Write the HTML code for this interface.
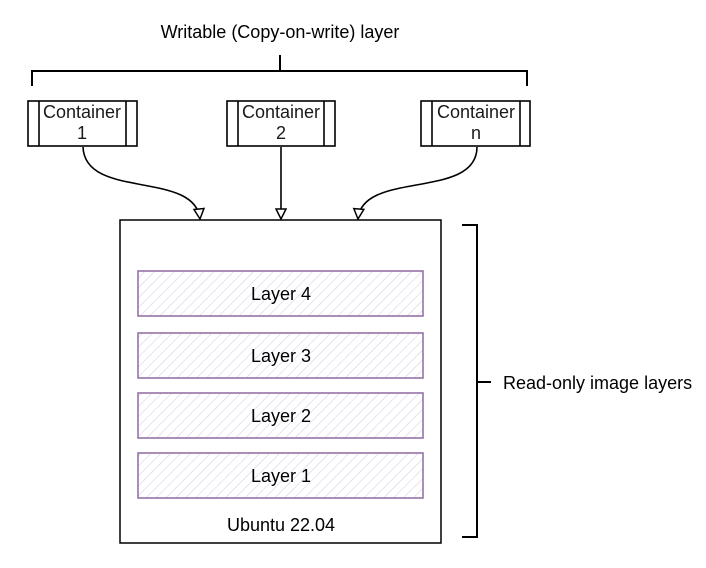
<!DOCTYPE html>
<html><head><meta charset="utf-8"><style>
html,body{margin:0;padding:0;background:#fff;}
svg{display:block;}
text{font-family:"Liberation Sans",Arial,sans-serif;font-size:18px;}
</style></head><body>
<svg width="706" height="568" viewBox="0 0 706 568" xmlns="http://www.w3.org/2000/svg">
<defs>
<pattern id="h" width="7" height="7" patternUnits="userSpaceOnUse" patternTransform="rotate(45)">
<line x1="0" y1="0" x2="0" y2="7" stroke="#d9cfe6" stroke-width="1.2"/>
</pattern>
<marker id="a" markerWidth="14" markerHeight="14" refX="11" refY="6" orient="auto" markerUnits="userSpaceOnUse">
<path d="M1,1 L11,6 L1,11 Z" fill="#fff" stroke="#000" stroke-width="1.5"/>
</marker>
</defs>
<text x="280" y="38" text-anchor="middle" fill="#000">Writable (Copy-on-write) layer</text>
<g stroke="#000" stroke-width="2" fill="none">
<path d="M32,86 L32,71 L527,71 L527,86"/>
<path d="M280,55 L280,71"/>
</g>
<g stroke="#000" stroke-width="1.6" fill="#fff">
<rect x="28" y="101" width="109" height="45"/>
<rect x="227" y="101" width="108" height="45"/>
<rect x="421" y="101" width="109" height="45"/>
</g>
<g stroke="#000" stroke-width="1.6">
<line x1="39" y1="101" x2="39" y2="146"/><line x1="126" y1="101" x2="126" y2="146"/>
<line x1="238" y1="101" x2="238" y2="146"/><line x1="324" y1="101" x2="324" y2="146"/>
<line x1="432" y1="101" x2="432" y2="146"/><line x1="520" y1="101" x2="520" y2="146"/>
</g>
<g fill="#1a1a1a" text-anchor="middle">
<text x="82" y="118">Container</text><text x="82" y="139">1</text>
<text x="281" y="118">Container</text><text x="281" y="139">2</text>
<text x="476" y="118">Container</text><text x="476" y="139">n</text>
</g>
<rect x="120" y="220" width="321" height="323" fill="#fff" stroke="#000" stroke-width="1.5"/>
<g stroke="#000" stroke-width="1.6" fill="none" marker-end="url(#a)">
<path d="M83,147 C85,200 195,170 200,219"/>
<path d="M281,147 L281,219"/>
<path d="M477,147 C477,200 362,170 358,219"/>
</g>
<g stroke="#9673a6" stroke-width="1.6" fill="url(#h)">
<rect x="138" y="271" width="285" height="45"/>
<rect x="138" y="333" width="285" height="45"/>
<rect x="138" y="393" width="285" height="45"/>
<rect x="138" y="453" width="285" height="45"/>
</g>
<g fill="#000" text-anchor="middle">
<text x="281" y="300">Layer 4</text>
<text x="281" y="362">Layer 3</text>
<text x="281" y="422">Layer 2</text>
<text x="281" y="482">Layer 1</text>
<text x="281" y="531">Ubuntu 22.04</text>
</g>
<g stroke="#000" stroke-width="2" fill="none">
<path d="M462,225 L477,225 L477,537 L462,537"/>
<path d="M477,382 L491,382"/>
</g>
<text x="503" y="389" fill="#000">Read-only image layers</text>
</svg>
</body></html>
